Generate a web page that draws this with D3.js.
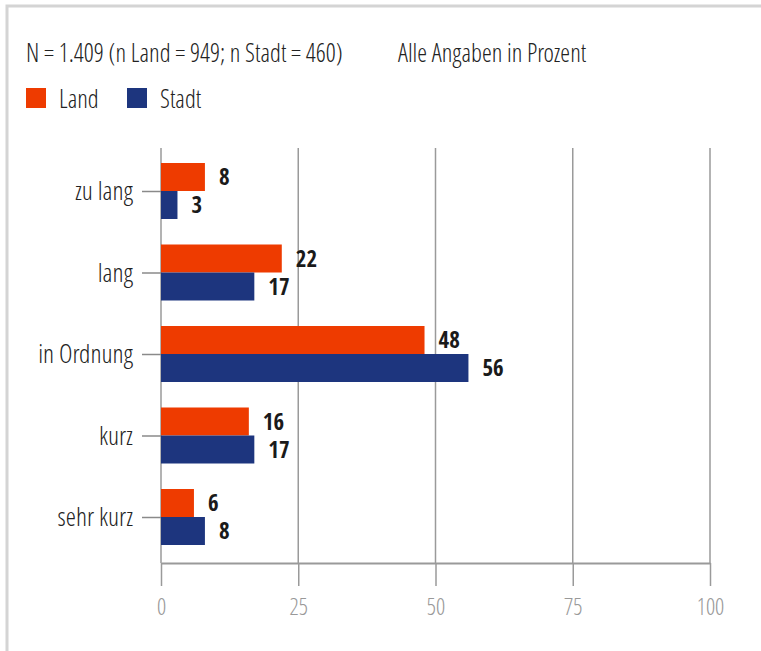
<!DOCTYPE html>
<html>
<head>
    <meta charset="UTF-8"/>
    <style>
        body {
            margin: 0;
            background: #fff;
        }
        svg text {
            font-family: "Open Sans Condensed Light", "Open Sans", sans-serif;
            font-weight: 300;
        }
        svg text.val {
            font-family: "Open Sans Condensed", "Open Sans", sans-serif;
            font-weight: 700;
        }
        .frame {
            fill: none;
            stroke: #d4d4d4;
            stroke-width: 3;
        }
    </style>
</head>
<body>
<script src="https://d3js.org/d3.v7.min.js"></script>
<div id="chart"></div>
<script>
    // data (percent)
    var categories = ["zu lang", "lang", "in Ordnung", "kurz", "sehr kurz"];
    var series = ["Land", "Stadt"];
    var land = [8, 22, 48, 16, 6];
    var stadt = [3, 17, 56, 17, 8];
    var xTicks = [0, 25, 50, 75, 100];
    var colors = ["#ee3b00", "#1d357e"];

    var width = 761, height = 651;

    var svg = d3.select("#chart")
        .append("svg")
        .attr("width", width)
        .attr("height", height);

    // light frame round the chart
    svg.append("path")
        .attr("class", "frame")
        .attr("d", "M7,651 V6 H761");

    // header
    svg.append("text")
        .attr("x", 26)
        .attr("y", 62)
        .attr("font-size", "25px")
        .attr("fill", "#222")
        .text("N = 1.409 (n Land = 949; n Stadt = 460)");
    svg.append("text")
        .attr("x", 398)
        .attr("y", 62)
        .attr("font-size", "25px")
        .attr("fill", "#222")
        .text("Alle Angaben in Prozent");

    // legend
    var legend = svg.selectAll(".legend")
        .data(series)
        .enter()
        .append("g")
        .attr("transform", function(d, i){ return "translate(" + (26 + i * 101) + ",88)"; });
    legend.append("rect")
        .attr("width", 20)
        .attr("height", 20)
        .attr("fill", function(d, i){ return colors[i]; });
    legend.append("text")
        .attr("x", 33)
        .attr("y", 20)
        .attr("font-size", "25px")
        .attr("fill", "#222")
        .text(function(d){ return d; });

    var x = d3.scaleLinear().domain([0, 100]).range([161, 710]);
    var y = d3.scalePoint().domain(categories).range([191, 517]);
    var sub = d3.scaleBand().domain(series).range([-28, 28]);

    var gridTop = 148, axisY = 563;

    // vertical grid
    svg.append("g")
        .selectAll("line")
        .data(xTicks)
        .enter()
        .append("line")
        .attr("x1", function(d){ return x(d); })
        .attr("x2", function(d){ return x(d); })
        .attr("y1", gridTop)
        .attr("y2", axisY)
        .attr("stroke", "#9a9a9a")
        .attr("stroke-width", 1.5);

    // x axis
    var xAxis = svg.append("g")
        .attr("transform", "translate(0," + axisY + ")")
        .call(d3.axisBottom(x).tickValues(xTicks).tickSize(23).tickSizeOuter(0).tickPadding(13));
    xAxis.select(".domain").attr("stroke", "#9a9a9a").attr("stroke-width", 2);
    xAxis.selectAll(".tick line").attr("stroke", "#9a9a9a").attr("stroke-width", 1.5);
    xAxis.selectAll(".tick text")
        .attr("font-size", "23px")
        .attr("fill", "#999")
        .attr("font-family", null);

    // y axis
    var yAxis = svg.append("g")
        .attr("transform", "translate(161,0)")
        .call(d3.axisLeft(y).tickSize(19).tickPadding(9));
    yAxis.select(".domain").remove();
    yAxis.selectAll(".tick line").attr("stroke", "#8a8a8a").attr("stroke-width", 1.5);
    yAxis.selectAll(".tick text")
        .attr("font-size", "26px")
        .attr("fill", "#222")
        .attr("font-family", null)
        .attr("dy", "0.33em");

    // bars
    var rows = [];
    categories.forEach(function(c, i){
        rows.push({cat: c, s: "Land", v: land[i], col: colors[0]});
        rows.push({cat: c, s: "Stadt", v: stadt[i], col: colors[1]});
    });

    svg.append("g")
        .selectAll("rect")
        .data(rows)
        .enter()
        .append("rect")
        .attr("x", x(0))
        .attr("y", function(d){ return y(d.cat) + sub(d.s); })
        .attr("width", function(d){ return x(d.v) - x(0); })
        .attr("height", sub.bandwidth())
        .attr("fill", function(d){ return d.col; });

    // value labels
    svg.append("g")
        .selectAll("text")
        .data(rows)
        .enter()
        .append("text")
        .attr("class", "val")
        .attr("x", function(d){ return x(d.v) + 14; })
        .attr("y", function(d){ return y(d.cat) + sub(d.s) + sub.bandwidth() / 2; })
        .attr("dy", "0.36em")
        .attr("font-size", "23px")
        .attr("fill", "#1a1a1a")
        .text(function(d){ return d.v; });
</script>
</body>
</html>
